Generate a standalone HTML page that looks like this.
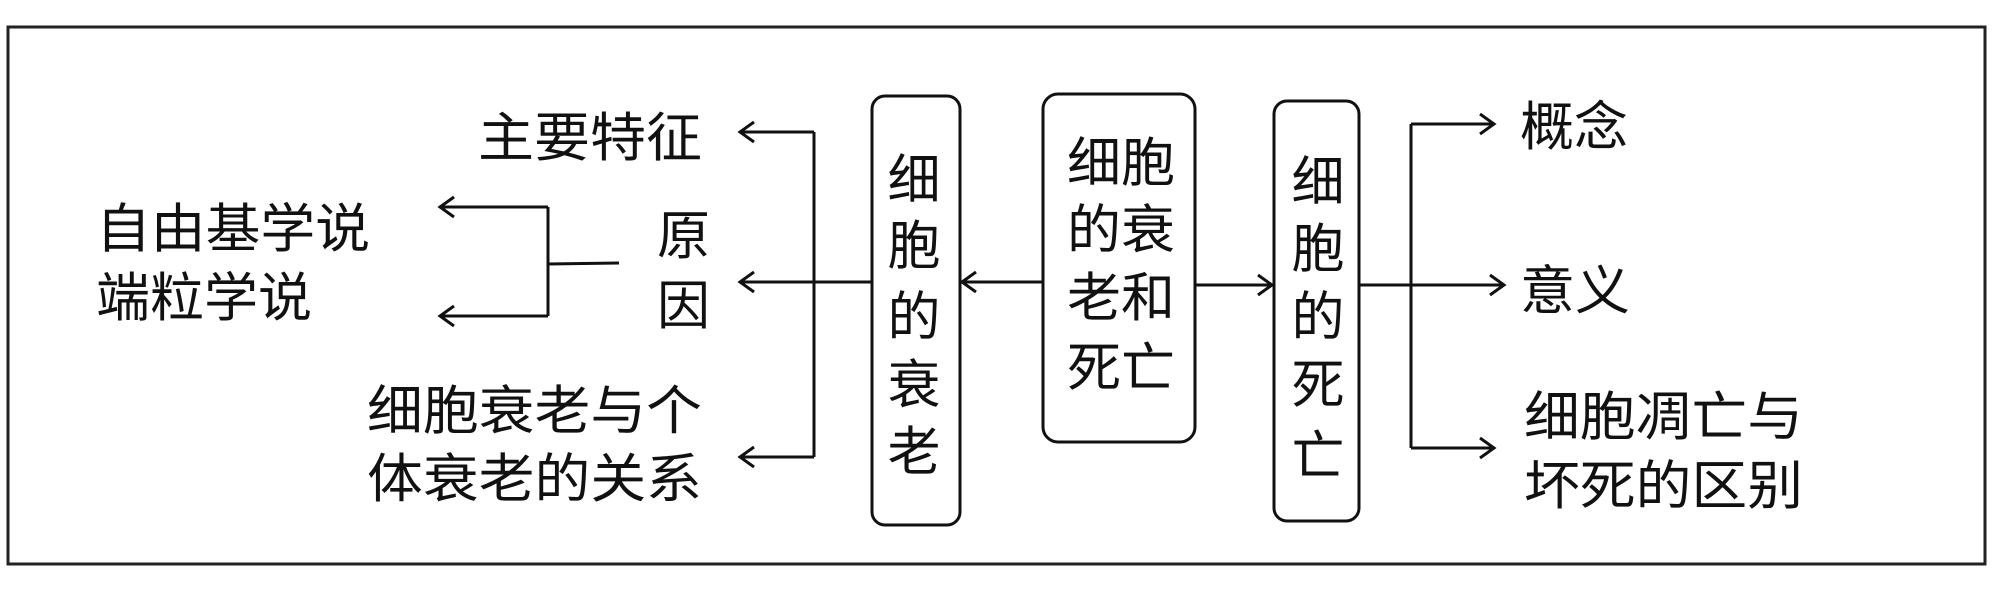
<!DOCTYPE html>
<html><head><meta charset="utf-8"><style>
html,body{margin:0;padding:0;background:#fff;}
svg{display:block;}
text{font-family:"Liberation Sans","Noto Sans CJK SC",sans-serif;font-size:53px;fill:#111;}
</style></head><body>
<svg width="2000" height="590" viewBox="0 0 2000 590" xmlns="http://www.w3.org/2000/svg">
<defs>
<marker id="a" markerWidth="20" markerHeight="24" refX="17" refY="12" orient="auto" markerUnits="userSpaceOnUse">
<path d="M3,2 L17,12 L3,22" fill="none" stroke="#111" stroke-width="3"/>
</marker>
</defs>
<rect x="8" y="27" width="1977" height="537" fill="none" stroke="#222" stroke-width="3"/>
<g fill="none" stroke="#111" stroke-width="3">
<rect x="872" y="96" width="88" height="429" rx="13"/>
<rect x="1043" y="94" width="152" height="348" rx="15"/>
<rect x="1274" y="101" width="85" height="420" rx="13"/>
<!-- center to left box -->
<line x1="1043" y1="282" x2="962" y2="282" marker-end="url(#a)"/>
<line x1="1195" y1="285" x2="1272" y2="285" marker-end="url(#a)"/>
<!-- left tree -->
<line x1="872" y1="282" x2="740" y2="282" marker-end="url(#a)"/>
<line x1="814" y1="132" x2="814" y2="457"/>
<line x1="814" y1="132" x2="740" y2="132" marker-end="url(#a)"/>
<line x1="814" y1="457" x2="740" y2="457" marker-end="url(#a)"/>
<!-- 原因 bracket -->
<line x1="619" y1="263" x2="548" y2="264"/>
<line x1="548" y1="207" x2="548" y2="316"/>
<line x1="548" y1="207" x2="440" y2="207" marker-end="url(#a)"/>
<line x1="548" y1="316" x2="440" y2="316" marker-end="url(#a)"/>
<!-- right tree -->
<line x1="1359" y1="285" x2="1504" y2="285" marker-end="url(#a)"/>
<line x1="1411" y1="124" x2="1411" y2="448"/>
<line x1="1411" y1="124" x2="1494" y2="124" marker-end="url(#a)"/>
<line x1="1411" y1="448" x2="1494" y2="448" marker-end="url(#a)"/>
</g>
<g>
<text x="478" y="156" textLength="224" lengthAdjust="spacingAndGlyphs">主要特征</text>
<text x="96" y="247" textLength="274" lengthAdjust="spacingAndGlyphs">自由基学说</text>
<text x="96" y="316" textLength="216" lengthAdjust="spacingAndGlyphs">端粒学说</text>
<text x="657" y="254">原</text>
<text x="657" y="324">因</text>
<text x="367" y="429" textLength="335" lengthAdjust="spacingAndGlyphs">细胞衰老与个</text>
<text x="367" y="497" textLength="335" lengthAdjust="spacingAndGlyphs">体衰老的关系</text>
<text x="1520" y="145" textLength="108" lengthAdjust="spacingAndGlyphs">概念</text>
<text x="1520" y="309" textLength="110" lengthAdjust="spacingAndGlyphs">意义</text>
<text x="1524" y="435" textLength="279" lengthAdjust="spacingAndGlyphs">细胞凋亡与</text>
<text x="1524" y="504" textLength="279" lengthAdjust="spacingAndGlyphs">坏死的区别</text>
</g>
<g text-anchor="middle">
<text x="914" y="198">细</text>
<text x="914" y="264">胞</text>
<text x="914" y="335">的</text>
<text x="914" y="403">衰</text>
<text x="914" y="470">老</text>
<text x="1121" y="181" textLength="108" lengthAdjust="spacingAndGlyphs">细胞</text>
<text x="1121" y="248" textLength="108" lengthAdjust="spacingAndGlyphs">的衰</text>
<text x="1121" y="316" textLength="108" lengthAdjust="spacingAndGlyphs">老和</text>
<text x="1121" y="386" textLength="108" lengthAdjust="spacingAndGlyphs">死亡</text>
<text x="1318" y="200">细</text>
<text x="1318" y="267">胞</text>
<text x="1318" y="335">的</text>
<text x="1318" y="403">死</text>
<text x="1318" y="474">亡</text>
</g>
</svg>
</body></html>
